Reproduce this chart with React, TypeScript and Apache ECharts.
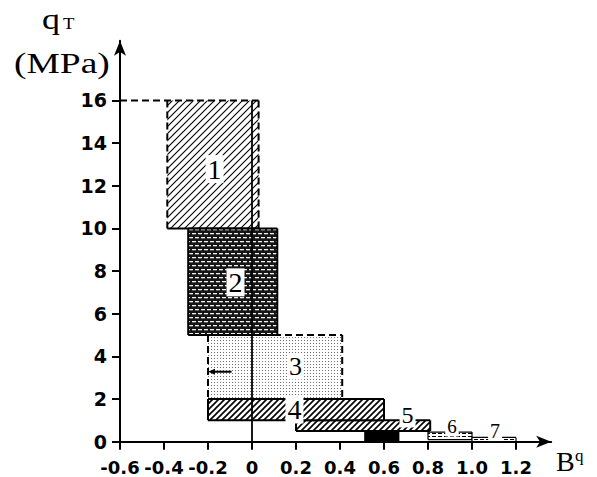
import React, { useEffect, useRef } from 'react';
import * as echarts from 'echarts';

// ---- data ----
const X_TICKS = [-0.6, -0.4, -0.2, 0, 0.2, 0.4, 0.6, 0.8, 1.0, 1.2];
const Y_TICKS = [0, 2, 4, 6, 8, 10, 12, 14, 16];

// zones (drawing order): 1, 1 (strip), 3, 2, 5, 4, black core, 6, 7
const ZONE_BQ_MIN = [-0.385, 0, -0.2, -0.29, 0.2, -0.2, 0.51, 0.8, 1.0];
const ZONE_BQ_MAX = [0, 0.03, 0.41, 0.115, 0.81, 0.6, 0.67, 1.0, 1.2];
const ZONE_QT_MIN = [10, 10, 2, 5, 0.5, 1, 0, 0.1, 0];
const ZONE_QT_MAX = [16, 16, 5, 10, 1.0, 2, 0.5, 0.45, 0.2];

const LABELS = ['1', '2', '3', '4', '5', '6', '7'];
const LABEL_BQ = [-0.17, -0.075, 0.198, 0.193, 0.707, 0.909, 1.105];
const LABEL_QT = [12.78, 7.47, 3.53, 1.51, 1.23, 0.69, 0.5];

// guide lines: dashed at qT = 16, solid at Bq = 0
const GUIDE_BQ_FROM = [-0.6, 0];
const GUIDE_BQ_TO = [0.03, 0];
const GUIDE_QT_FROM = [16, 0];
const GUIDE_QT_TO = [16, 16];

// small arrow inside zone 3
const ARROW_BQ = [-0.093, -0.2];
const ARROW_QT = [3.28, 3.28];

// ---- styles ----
const ZONE_FILL = ['hatchA', 'hatchA', 'stipple', 'darkBrick', 'hatchB', 'hatchB', 'black', 'lightBrick', 'lightBrick'];
const ZONE_EDGES = ['nnsd', 'ndsn', 'ddnd', 'ssss', 'ssss', 'ssss', 'nnnn', 'ssss', 'ssss'];
const ZONE_EDGE_W = [2, 2, 2, 2, 2, 2, 1, 1.2, 1.2];
const LABEL_SIZE = [28, 28, 26, 28, 24, 19, 20];
const GUIDE_DASH = [true, false];

function tile(w: number, h: number, draw: (ctx: CanvasRenderingContext2D) => void) {
  const c = document.createElement('canvas');
  c.width = w;
  c.height = h;
  const ctx = c.getContext('2d') as CanvasRenderingContext2D;
  draw(ctx);
  return { image: c.toDataURL(), repeat: 'repeat', imageWidth: w, imageHeight: h };
}

function hatch(s: number, lw: number) {
  return tile(s, s, (ctx) => {
    ctx.fillStyle = '#fff';
    ctx.fillRect(0, 0, s, s);
    ctx.strokeStyle = '#000';
    ctx.lineWidth = lw;
    ctx.beginPath();
    ctx.moveTo(-2, s + 2);
    ctx.lineTo(s + 2, -2);
    ctx.moveTo(-2, 2);
    ctx.lineTo(2, -2);
    ctx.moveTo(s - 2, s + 2);
    ctx.lineTo(s + 2, s - 2);
    ctx.stroke();
  });
}

export default function App() {
  const ref = useRef<HTMLDivElement>(null);
  useEffect(() => {
    if (!ref.current) return;
    const chart = echarts.init(ref.current, null, { renderer: 'svg' });

    const fills: Record<string, any> = {
      hatchA: hatch(7, 1.1),
      hatchB: hatch(6, 1.6),
      stipple: tile(3, 3, (ctx) => {
        ctx.fillStyle = '#fff';
        ctx.fillRect(0, 0, 3, 3);
        ctx.fillStyle = '#6e6e6e';
        ctx.fillRect(1, 1, 1, 1);
      }),
      darkBrick: tile(12, 8, (ctx) => {
        ctx.fillStyle = '#161616';
        ctx.fillRect(0, 0, 12, 8);
        ctx.fillStyle = '#f2f2f2';
        ctx.fillRect(0, 1, 4, 1.3);
        ctx.fillRect(6, 1, 4, 1.3);
        ctx.fillRect(3, 5, 4, 1.3);
        ctx.fillRect(9, 5, 3, 1.3);
        ctx.fillRect(0, 5, 1, 1.3);
      }),
      lightBrick: tile(6, 3, (ctx) => {
        ctx.fillStyle = '#fff';
        ctx.fillRect(0, 0, 6, 3);
        ctx.fillStyle = '#000';
        ctx.fillRect(0, 1, 4, 1);
      }),
      black: '#000',
    };

    const serif = 'Liberation Serif';
    const sans = 'DejaVu Sans';

    const zoneData = ZONE_BQ_MIN.map((v, i) => [v, ZONE_BQ_MAX[i], ZONE_QT_MIN[i], ZONE_QT_MAX[i]]);
    const guideData = GUIDE_BQ_FROM.map((v, i) => [v, GUIDE_QT_FROM[i], GUIDE_BQ_TO[i], GUIDE_QT_TO[i]]);
    const labelData = LABELS.map((t, i) => [LABEL_BQ[i], LABEL_QT[i], t]);

    const txt = (text: string, x: number, y: number, size: number, scaleX = 1) => ({
      type: 'text',
      x,
      y,
      scaleX,
      silent: true,
      style: {
        text,
        font: `normal ${size}px "Liberation Serif"`,
        fill: '#000',
        align: 'left',
        verticalAlign: 'middle',
      },
    });

    const option: any = {
      animation: false,
      backgroundColor: '#fff',
      grid: { left: 120, top: 40.7, width: 431.2, height: 401, containLabel: false, outerBoundsMode: 'none' },
      xAxis: {
        type: 'value',
        min: -0.6,
        max: 1.36,
        splitLine: { show: false },
        axisLine: {
          show: true,
          onZero: false,
          lineStyle: { color: '#000', width: 2 },
          symbol: ['none', 'arrow'],
          symbolSize: [9, 15],
        },
        axisTick: { show: true, customValues: X_TICKS, length: 8, lineStyle: { color: '#000', width: 2 } },
        axisLabel: {
          customValues: X_TICKS,
          formatter: (v: number) => (Math.abs(v) < 1e-9 ? '0' : v.toFixed(1)),
          fontFamily: sans,
          fontWeight: 'bold',
          fontSize: 18,
          lineHeight: 17,
          color: '#000',
          margin: 17,
        },
      },
      yAxis: {
        type: 'value',
        min: 0,
        max: 18.8,
        splitLine: { show: false },
        axisLine: {
          show: true,
          onZero: false,
          lineStyle: { color: '#000', width: 2 },
          symbol: ['none', 'arrow'],
          symbolSize: [9, 15],
        },
        axisTick: { show: true, customValues: Y_TICKS, length: 8, lineStyle: { color: '#000', width: 2 } },
        axisLabel: {
          customValues: Y_TICKS,
          formatter: (v: number) => String(Math.round(v)),
          fontFamily: sans,
          fontWeight: 'bold',
          fontSize: 19,
          color: '#000',
          margin: 13,
        },
      },
      series: [
        {
          type: 'custom',
          coordinateSystem: 'cartesian2d',
          clip: false,
          silent: true,
          data: zoneData,
          encode: { x: [0, 1], y: [2, 3] },
          renderItem: (params: any, api: any) => {
            const i = params.dataIndex;
            const p0 = api.coord([api.value(0), api.value(3)]);
            const p1 = api.coord([api.value(1), api.value(2)]);
            const L = p0[0], T = p0[1], R = p1[0], B = p1[1];
            const children: any[] = [
              { type: 'rect', shape: { x: L, y: T, width: R - L, height: B - T }, style: { fill: fills[ZONE_FILL[i]], stroke: null } },
            ];
            const edges = ZONE_EDGES[i];
            const segs = [
              [L, T, R, T],
              [R, T, R, B],
              [L, B, R, B],
              [L, T, L, B],
            ];
            for (let k = 0; k < 4; k++) {
              const c = edges[k];
              if (c === 'n') continue;
              const s = segs[k];
              children.push({
                type: 'line',
                shape: { x1: s[0], y1: s[1], x2: s[2], y2: s[3] },
                style: { stroke: '#000', lineWidth: ZONE_EDGE_W[i], lineDash: c === 'd' ? [7, 4] : null },
              });
            }
            return { type: 'group', children };
          },
        },
        {
          type: 'custom',
          coordinateSystem: 'cartesian2d',
          clip: false,
          silent: true,
          data: guideData,
          renderItem: (params: any, api: any) => {
            const i = params.dataIndex;
            const a = api.coord([api.value(0), api.value(1)]);
            const b = api.coord([api.value(2), api.value(3)]);
            return {
              type: 'line',
              shape: { x1: a[0], y1: a[1], x2: b[0], y2: b[1] },
              style: { stroke: '#000', lineWidth: GUIDE_DASH[i] ? 2 : 1.8, lineDash: GUIDE_DASH[i] ? [7, 4] : null },
            };
          },
        },
        {
          type: 'custom',
          coordinateSystem: 'cartesian2d',
          clip: false,
          silent: true,
          data: [[ARROW_BQ[0], ARROW_QT[0], ARROW_BQ[1], ARROW_QT[1]]],
          renderItem: (params: any, api: any) => {
            const a = api.coord([api.value(0), api.value(1)]);
            const b = api.coord([api.value(2), api.value(3)]);
            return {
              type: 'group',
              children: [
                { type: 'line', shape: { x1: a[0], y1: a[1], x2: b[0] + 5, y2: b[1] }, style: { stroke: '#000', lineWidth: 2 } },
                {
                  type: 'polygon',
                  shape: { points: [[b[0], b[1]], [b[0] + 7, b[1] - 3], [b[0] + 7, b[1] + 3]] },
                  style: { fill: '#000' },
                },
              ],
            };
          },
        },
        {
          type: 'custom',
          coordinateSystem: 'cartesian2d',
          clip: false,
          silent: true,
          data: labelData,
          renderItem: (params: any, api: any) => {
            const i = params.dataIndex;
            const p = api.coord([api.value(0), api.value(1)]);
            return {
              type: 'text',
              x: p[0],
              y: p[1],
              style: {
                text: LABELS[i],
                fontSize: LABEL_SIZE[i],
                fontFamily: serif,
                fontWeight: 'normal',
                fill: '#000',
                align: 'center',
                verticalAlign: 'middle',
                backgroundColor: '#fff',
                padding: [0, 2],
              },
            };
          },
        },
      ],
      graphic: [
        txt('q', 42, 19, 30, 1.2),
        txt('T', 63, 23, 17, 1.1),
        txt('(MPa)', 14, 63, 30, 1.25),
        txt('B', 556, 461, 28),
        txt('q', 575, 455, 17),
      ],
    };
    chart.setOption(option);
    return () => chart.dispose();
  }, []);
  return <div ref={ref} style={{ position: 'fixed', left: 0, top: 0, width: 597, height: 477, background: '#fff' }} />;
}
